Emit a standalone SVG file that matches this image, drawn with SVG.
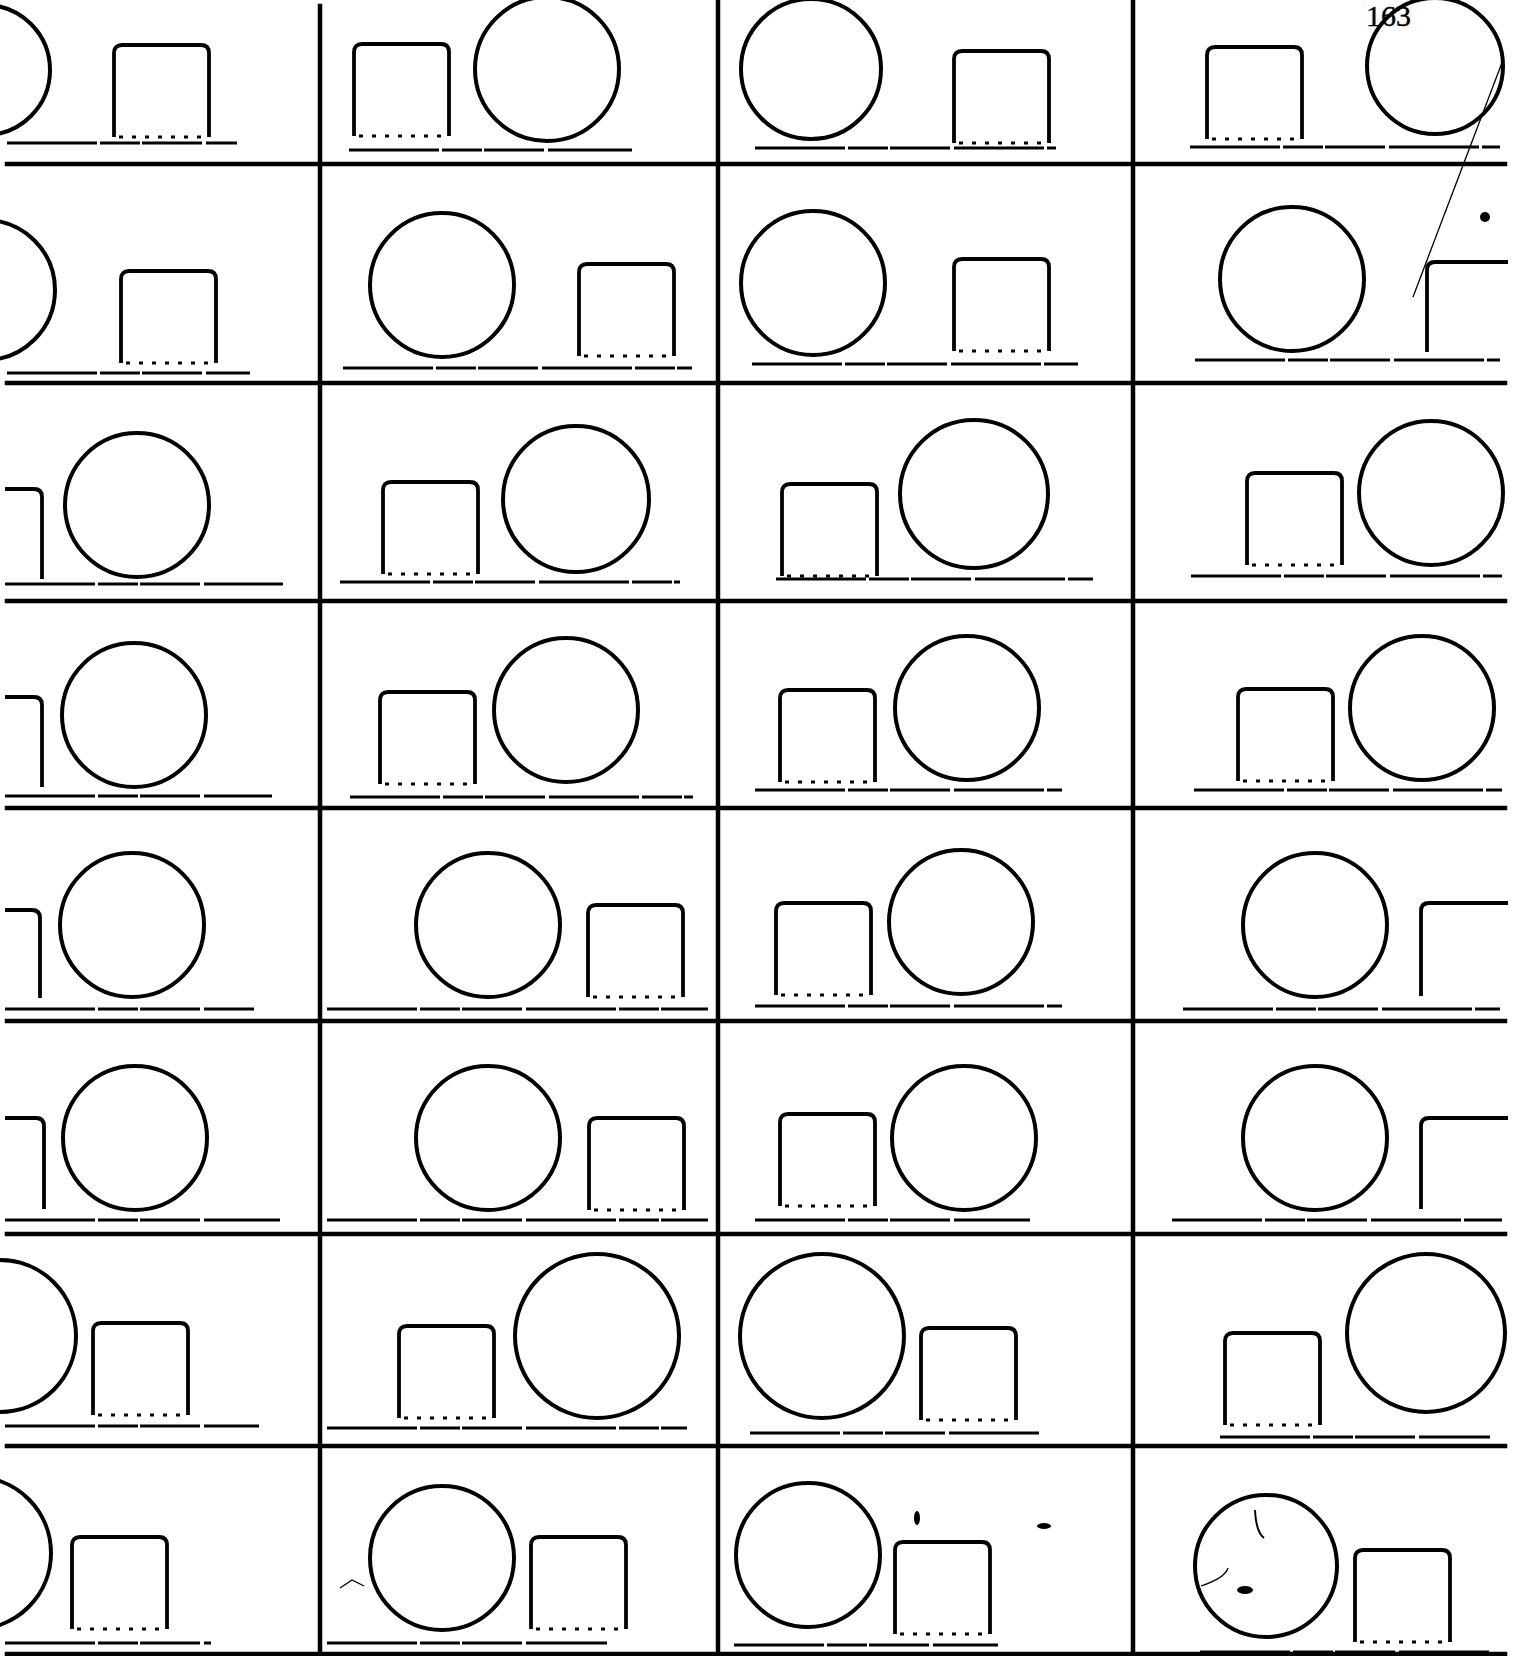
<svg xmlns="http://www.w3.org/2000/svg" xmlns:xlink="http://www.w3.org/1999/xlink" width="1519" height="1656" viewBox="0 0 1519 1656">
<style>
.bg{fill:#fff}
.grid{stroke:#000;stroke-width:4.5;fill:none;stroke-linecap:square}
.base{stroke:#000;stroke-width:3.2;fill:none;stroke-dasharray:90 3 40 2 60 4}
.c{stroke:#000;stroke-width:4;fill:none}
.s{stroke:#000;stroke-width:3.8;fill:none;stroke-linejoin:round}
.dot{stroke:#000;stroke-width:3;fill:none;stroke-dasharray:4 9}
.thin{stroke:#000;stroke-width:1.3;fill:none}
.ink{fill:#000}
.num{font-family:"Liberation Serif",serif;font-size:30px;fill:#000;stroke:#000;stroke-width:0.4}
</style>
<defs>
<g id="sq">
<path class="s" d="M0,92 L0,8 Q0,0 8,0 L87,0 Q95,0 95,8 L95,92"/>
<line class="dot" x1="5" y1="92" x2="92" y2="92"/>
</g>
</defs>
<rect class="bg" x="0" y="0" width="1519" height="1656"/>

<g id="grid">
<line class="grid" x1="320" y1="6" x2="320" y2="1656"/>
<line class="grid" x1="718" y1="0" x2="718" y2="1656"/>
<line class="grid" x1="1133" y1="0" x2="1133" y2="1656"/>
<line class="grid" x1="7" y1="164" x2="1505" y2="164"/>
<line class="grid" x1="7" y1="383" x2="1505" y2="383"/>
<line class="grid" x1="7" y1="601" x2="1505" y2="601"/>
<line class="grid" x1="7" y1="808" x2="1505" y2="808"/>
<line class="grid" x1="7" y1="1021" x2="1505" y2="1021"/>
<line class="grid" x1="7" y1="1234" x2="1505" y2="1234"/>
<line class="grid" x1="7" y1="1446" x2="1505" y2="1446"/>
<line class="grid" x1="7" y1="1654" x2="1505" y2="1654"/>
</g>

<g id="row1">
<g id="r1c1"><circle class="c" cx="-15" cy="70" r="65"/><use xlink:href="#sq" x="114" y="45"/><line class="base" x1="7" y1="143" x2="237" y2="143"/></g>
<g id="r1c2"><use xlink:href="#sq" x="354" y="44"/><circle class="c" cx="547" cy="69" r="72"/><line class="base" x1="349" y1="150" x2="632" y2="150"/></g>
<g id="r1c3"><circle class="c" cx="811" cy="69" r="70"/><use xlink:href="#sq" x="954" y="51"/><line class="base" x1="755" y1="148" x2="1056" y2="148"/></g>
<g id="r1c4"><use xlink:href="#sq" x="1207" y="47"/><circle class="c" cx="1435" cy="66" r="68"/><line class="base" x1="1190" y1="147" x2="1500" y2="147"/>
<text class="num" x="1366" y="26">163</text>
<line class="thin" x1="1503" y1="60" x2="1413" y2="297"/></g>
</g>

<g id="row2">
<g id="r2c1"><circle class="c" cx="-15" cy="290" r="70"/><use xlink:href="#sq" x="121" y="271"/><line class="base" x1="7" y1="373" x2="250" y2="373"/></g>
<g id="r2c2"><circle class="c" cx="442" cy="285" r="72"/><use xlink:href="#sq" x="579" y="264"/><line class="base" x1="343" y1="368" x2="692" y2="368"/></g>
<g id="r2c3"><circle class="c" cx="813" cy="283" r="72"/><use xlink:href="#sq" x="954" y="259"/><line class="base" x1="752" y1="364" x2="1078" y2="364"/></g>
<g id="r2c4"><circle class="c" cx="1292" cy="279" r="72"/><path class="s" d="M1427,352 L1427,270 Q1427,262 1435,262 L1508,262"/><line class="base" x1="1195" y1="360" x2="1500" y2="360"/><circle class="ink" cx="1485" cy="217" r="5"/></g>
</g>

<g id="row3">
<g id="r3c1"><path class="s" d="M5,489 L34,489 Q42,489 42,497 L42,579"/><circle class="c" cx="137" cy="505" r="72"/><line class="base" x1="5" y1="584" x2="283" y2="584"/></g>
<g id="r3c2"><use xlink:href="#sq" x="383" y="482"/><circle class="c" cx="576" cy="499" r="73"/><line class="base" x1="340" y1="582" x2="680" y2="582"/></g>
<g id="r3c3"><use xlink:href="#sq" x="782" y="484"/><circle class="c" cx="974" cy="494" r="74"/><line class="base" x1="776" y1="579" x2="1093" y2="579"/></g>
<g id="r3c4"><use xlink:href="#sq" x="1247" y="473"/><circle class="c" cx="1431" cy="493" r="72"/><line class="base" x1="1191" y1="576" x2="1502" y2="576"/></g>
</g>

<g id="row4">
<g id="r4c1"><path class="s" d="M5,697 L34,697 Q42,697 42,705 L42,787"/><circle class="c" cx="134" cy="715" r="72"/><line class="base" x1="5" y1="796" x2="272" y2="796"/></g>
<g id="r4c2"><use xlink:href="#sq" x="380" y="692"/><circle class="c" cx="566" cy="710" r="72"/><line class="base" x1="350" y1="797" x2="693" y2="797"/></g>
<g id="r4c3"><use xlink:href="#sq" x="780" y="690"/><circle class="c" cx="967" cy="708" r="72"/><line class="base" x1="755" y1="790" x2="1062" y2="790"/></g>
<g id="r4c4"><use xlink:href="#sq" x="1238" y="689"/><circle class="c" cx="1422" cy="708" r="72"/><line class="base" x1="1194" y1="790" x2="1502" y2="790"/></g>
</g>

<g id="row5">
<g id="r5c1"><path class="s" d="M5,910 L32,910 Q40,910 40,918 L40,998"/><circle class="c" cx="132" cy="925" r="72"/><line class="base" x1="5" y1="1009" x2="254" y2="1009"/></g>
<g id="r5c2"><circle class="c" cx="488" cy="925" r="72"/><use xlink:href="#sq" x="588" y="905"/><line class="base" x1="327" y1="1009" x2="708" y2="1009"/></g>
<g id="r5c3"><use xlink:href="#sq" x="776" y="903"/><circle class="c" cx="961" cy="922" r="72"/><line class="base" x1="755" y1="1006" x2="1062" y2="1006"/></g>
<g id="r5c4"><circle class="c" cx="1315" cy="925" r="72"/><path class="s" d="M1421,996 L1421,911 Q1421,903 1429,903 L1508,903"/><line class="base" x1="1183" y1="1009" x2="1500" y2="1009"/></g>
</g>

<g id="row6">
<g id="r6c1"><path class="s" d="M5,1118 L36,1118 Q44,1118 44,1126 L44,1209"/><circle class="c" cx="135" cy="1138" r="72"/><line class="base" x1="5" y1="1220" x2="280" y2="1220"/></g>
<g id="r6c2"><circle class="c" cx="488" cy="1138" r="72"/><use xlink:href="#sq" x="589" y="1118"/><line class="base" x1="327" y1="1220" x2="708" y2="1220"/></g>
<g id="r6c3"><use xlink:href="#sq" x="780" y="1114"/><circle class="c" cx="964" cy="1138" r="72"/><line class="base" x1="755" y1="1220" x2="1030" y2="1220"/></g>
<g id="r6c4"><circle class="c" cx="1315" cy="1138" r="72"/><path class="s" d="M1421,1209 L1421,1126 Q1421,1118 1429,1118 L1508,1118"/><line class="base" x1="1172" y1="1220" x2="1502" y2="1220"/></g>
</g>

<g id="row7">
<g id="r7c1"><circle class="c" cx="0" cy="1336" r="76"/><use xlink:href="#sq" x="93" y="1323"/><line class="base" x1="5" y1="1426" x2="259" y2="1426"/></g>
<g id="r7c2"><use xlink:href="#sq" x="399" y="1326"/><circle class="c" cx="597" cy="1336" r="82"/><line class="base" x1="327" y1="1428" x2="687" y2="1428"/></g>
<g id="r7c3"><circle class="c" cx="822" cy="1336" r="82"/><use xlink:href="#sq" x="921" y="1328"/><line class="base" x1="750" y1="1433" x2="1040" y2="1433"/></g>
<g id="r7c4"><use xlink:href="#sq" x="1225" y="1333"/><circle class="c" cx="1426" cy="1333" r="79"/><line class="base" x1="1220" y1="1437" x2="1490" y2="1437"/></g>
</g>

<g id="row8">
<g id="r8c1"><circle class="c" cx="-25" cy="1553" r="76"/><use xlink:href="#sq" x="72" y="1537"/><line class="base" x1="5" y1="1643" x2="211" y2="1643"/></g>
<g id="r8c2"><circle class="c" cx="442" cy="1558" r="72"/><use xlink:href="#sq" x="531" y="1537"/><line class="base" x1="327" y1="1643" x2="607" y2="1643"/><path class="thin" d="M340,1588 L352,1580 L364,1586"/></g>
<g id="r8c3"><circle class="c" cx="808" cy="1555" r="72"/><use xlink:href="#sq" x="895" y="1542"/><line class="base" x1="734" y1="1645" x2="998" y2="1645"/><ellipse class="ink" cx="917" cy="1518" rx="3" ry="7"/><ellipse class="ink" cx="1044" cy="1526" rx="7" ry="3"/></g>
<g id="r8c4"><circle class="c" cx="1266" cy="1566" r="71"/><use xlink:href="#sq" x="1355" y="1550"/><line class="base" x1="1200" y1="1652" x2="1490" y2="1652"/>
<path class="thin" d="M1255,1510 Q1256,1532 1264,1538" style="stroke-width:2"/>
<path class="thin" d="M1201,1586 Q1225,1578 1228,1568"/>
<ellipse class="ink" cx="1245" cy="1590" rx="8" ry="4"/></g>
</g>
</svg>
